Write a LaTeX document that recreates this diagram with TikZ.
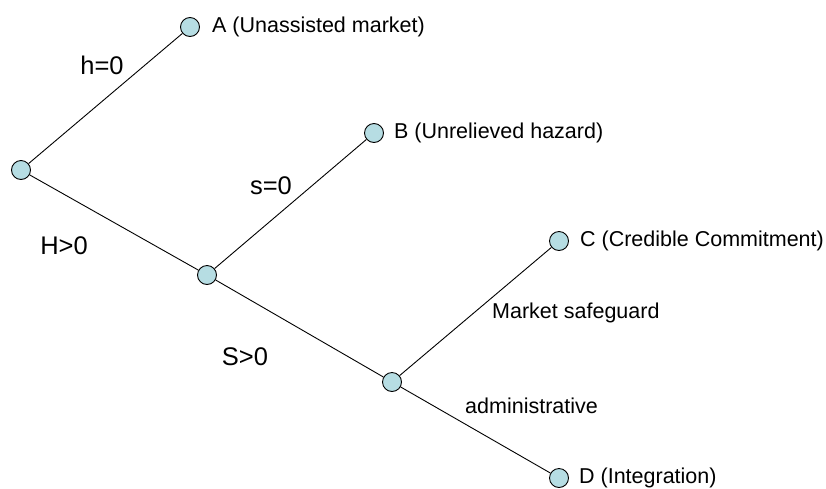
\documentclass[tikz,border=0pt]{standalone}
\usepackage{fontspec}
\setmainfont{Liberation Sans}
\definecolor{nodefill}{RGB}{182,221,227}
\begin{document}
\begin{tikzpicture}[x=1pt,y=-1pt,
  dot/.style={circle,draw=black,fill=nodefill,line width=0.9pt,minimum size=19pt,inner sep=0pt},
  lbl/.style={anchor=west,inner sep=0pt,font=\fontsize{21.5}{26}\selectfont},
  elbl/.style={inner sep=0pt,font=\fontsize{25.5}{30}\selectfont},
  slbl/.style={anchor=base west,inner sep=0pt,font=\fontsize{21.5}{26}\selectfont},
  edgeline/.style={line width=0.9pt}]
\useasboundingbox (0,0) rectangle (826,488);
\node[dot] (r) at (21,170) {};
\node[dot] (a) at (190,27) {};
\node[dot] (n2) at (207,275) {};
\node[dot] (b) at (374,133) {};
\node[dot] (n3) at (392,382) {};
\node[dot] (c) at (559,241) {};
\node[dot] (d) at (559,478) {};
\draw[edgeline] (r) -- (a);
\draw[edgeline] (r) -- (n2);
\draw[edgeline] (n2) -- (b);
\draw[edgeline] (n2) -- (n3);
\draw[edgeline] (n3) -- (c);
\draw[edgeline] (n3) -- (d);
\node[lbl] (la) at ([xshift=12pt]a.east) {A (Unassisted market)};
\node[lbl] (lb) at ([xshift=10pt]b.east) {B (Unrelieved hazard)};
\node[lbl] (lc) at ([xshift=11pt]c.east) {C (Credible Commitment)};
\node[lbl] (ld) at ([xshift=10pt]d.east) {D (Integration)};
\node[elbl] (h0) at (102,65) {h=0};
\node[elbl] (s0) at (271,186) {s=0};
\node[elbl] (H0) at (64,246) {H>0};
\node[elbl] (S0) at (245,357) {S>0};
\node[slbl] (ms) at (492,318) {Market safeguard};
\node[slbl] (ad) at (465,413) {administrative};
\end{tikzpicture}
\end{document}
